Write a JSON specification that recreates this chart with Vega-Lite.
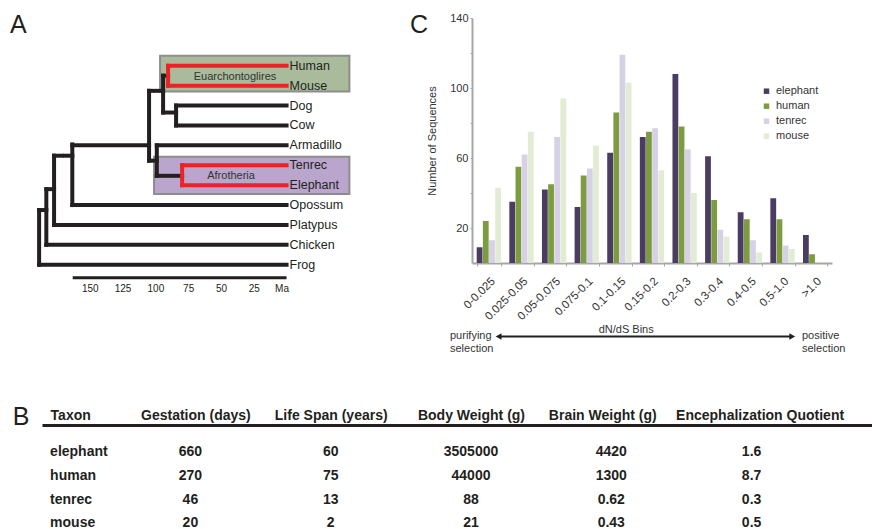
{
  "$schema": "https://vega.github.io/schema/vega-lite/v6.json",
  "padding": {"left": 10, "top": 12, "right": 0, "bottom": 0},
  "background": "white",
  "config": {
    "font": "Liberation Sans",
    "view": {"stroke": null},
    "title": {"fontSize": 25, "fontWeight": "normal", "color": "#231f20", "anchor": "start", "frame": "group", "baseline": "alphabetic"}
  },
  "bounds": "flush",
  "spacing": 407,
  "vconcat": [
    {
      "bounds": "flush",
      "spacing": 110,
      "hconcat": [
        {
          "title": {"text": "A", "dx": -32, "offset": -19.8},
          "width": 320,
          "height": 261,
          "layer": [
            {
              "data": {"values": [
                {"clade": "Euarchontoglires", "ma": 96.4, "ma2": -47.9, "row": 0.5, "row2": 2.29},
                {"clade": "Afrotheria", "ma": 101.0, "ma2": -47.9, "row": 5.57, "row2": 7.45}
              ]},
              "mark": {"type": "rect", "stroke": "#8d8d8d", "strokeWidth": 2},
              "encoding": {
                "x": {"field": "ma", "type": "quantitative",
                  "scale": {"domain": [186.4, -57.5], "nice": false, "zero": false},
                  "axis": {"values": [150, 125, 100, 75, 50, 25, 0], "labelExpr": "datum.value === 0 ? 'Ma' : datum.label",
                    "domain": false, "ticks": false, "grid": false, "title": null, "labelFontSize": 10, "labelColor": "#231f20",
                    "labelPadding": 4, "labelFlush": false, "labelOverlap": false,
                    "labelOffset": {"condition": {"test": "datum.value === 0", "value": -5}, "value": 0}}},
                "x2": {"field": "ma2"},
                "y": {"field": "row", "type": "quantitative", "scale": {"domain": [-1.4, 11.715], "reverse": true, "nice": false, "zero": false}, "axis": null},
                "y2": {"field": "row2"},
                "fill": {"field": "clade", "type": "nominal", "scale": {"domain": ["Euarchontoglires", "Afrotheria"], "range": ["#aabb9c", "#baa5cd"]}, "legend": null}
              }
            },
            {
              "data": {"values": [
                {"ma": 94.1, "ma2": 90.3, "row": 1.5, "row2": 1.5, "clade": "other"},
                {"ma": 94.1, "ma2": 94.1, "row": 1.5, "row2": 3.35, "clade": "other"},
                {"ma": 94.1, "ma2": 84.2, "row": 3.35, "row2": 3.35, "clade": "other"},
                {"ma": 84.2, "ma2": 84.2, "row": 3, "row2": 4, "clade": "other"},
                {"ma": 84.2, "ma2": 0, "row": 3, "row2": 3, "clade": "other"},
                {"ma": 84.2, "ma2": 0, "row": 4, "row2": 4, "clade": "other"},
                {"ma": 104.8, "ma2": 94.1, "row": 2.26, "row2": 2.26, "clade": "other"},
                {"ma": 104.8, "ma2": 104.8, "row": 2.26, "row2": 5.77, "clade": "other"},
                {"ma": 104.8, "ma2": 98.9, "row": 5.77, "row2": 5.77, "clade": "other"},
                {"ma": 98.9, "ma2": 98.9, "row": 5, "row2": 6.53, "clade": "other"},
                {"ma": 98.9, "ma2": 0, "row": 5, "row2": 5, "clade": "other"},
                {"ma": 98.9, "ma2": 79.6, "row": 6.53, "row2": 6.53, "clade": "other"},
                {"ma": 163.3, "ma2": 104.8, "row": 5, "row2": 5, "clade": "other"},
                {"ma": 163.3, "ma2": 163.3, "row": 4.95, "row2": 8, "clade": "other"},
                {"ma": 163.3, "ma2": 0, "row": 8, "row2": 8, "clade": "other"},
                {"ma": 177.2, "ma2": 171.1, "row": 5.52, "row2": 5.52, "clade": "other"},
                {"ma": 168.8, "ma2": 163.3, "row": 5.52, "row2": 5.52, "clade": "other"},
                {"ma": 177.2, "ma2": 177.2, "row": 5.52, "row2": 9, "clade": "other"},
                {"ma": 177.2, "ma2": 0, "row": 9, "row2": 9, "clade": "other"},
                {"ma": 183.1, "ma2": 177.2, "row": 7.2, "row2": 7.2, "clade": "other"},
                {"ma": 183.1, "ma2": 183.1, "row": 7.2, "row2": 10, "clade": "other"},
                {"ma": 183.1, "ma2": 0, "row": 10, "row2": 10, "clade": "other"},
                {"ma": 188.6, "ma2": 183.1, "row": 8.25, "row2": 8.25, "clade": "other"},
                {"ma": 188.6, "ma2": 188.6, "row": 8.25, "row2": 11, "clade": "other"},
                {"ma": 188.6, "ma2": 0, "row": 11, "row2": 11, "clade": "other"},
                {"ma": 90.3, "ma2": 0, "row": 1, "row2": 1, "clade": "Euarchontoglires"},
                {"ma": 90.3, "ma2": 0, "row": 2, "row2": 2, "clade": "Euarchontoglires"},
                {"ma": 90.3, "ma2": 90.3, "row": 1, "row2": 2, "clade": "Euarchontoglires"},
                {"ma": 79.6, "ma2": 0, "row": 6, "row2": 6, "clade": "Afrotheria"},
                {"ma": 79.6, "ma2": 0, "row": 7, "row2": 7, "clade": "Afrotheria"},
                {"ma": 79.6, "ma2": 79.6, "row": 6, "row2": 7, "clade": "Afrotheria"}
              ]},
              "mark": {"type": "rule", "strokeWidth": 4, "strokeCap": "square"},
              "encoding": {
                "x": {"field": "ma", "type": "quantitative"},
                "x2": {"field": "ma2"},
                "y": {"field": "row", "type": "quantitative"},
                "y2": {"field": "row2"},
                "stroke": {"field": "clade", "type": "nominal", "scale": {"domain": ["Euarchontoglires", "Afrotheria", "other"], "range": ["#ec2227", "#ec2227", "#231f20"]}, "legend": null}
              }
            },
            {
              "data": {"values": [{"ma": 163, "ma2": 0, "row": 11.65}]},
              "mark": {"type": "rule", "strokeWidth": 3, "color": "#231f20"},
              "encoding": {
                "x": {"field": "ma", "type": "quantitative"},
                "x2": {"field": "ma2"},
                "y": {"field": "row", "type": "quantitative"}
              }
            },
            {
              "data": {"values": [
                {"taxon": "Human", "row": 1}, {"taxon": "Mouse", "row": 2}, {"taxon": "Dog", "row": 3},
                {"taxon": "Cow", "row": 4}, {"taxon": "Armadillo", "row": 5}, {"taxon": "Tenrec", "row": 6},
                {"taxon": "Elephant", "row": 7}, {"taxon": "Opossum", "row": 8}, {"taxon": "Platypus", "row": 9},
                {"taxon": "Chicken", "row": 10}, {"taxon": "Frog", "row": 11}
              ]},
              "mark": {"type": "text", "align": "left", "baseline": "middle", "dx": 3, "fontSize": 12.5, "color": "#231f20"},
              "encoding": {
                "x": {"datum": 0, "type": "quantitative"},
                "y": {"field": "row", "type": "quantitative"},
                "text": {"field": "taxon"}
              }
            },
            {
              "data": {"values": [
                {"label": "Euarchontoglires", "ma": 39.3, "row": 1.54},
                {"label": "Afrotheria", "ma": 42.3, "row": 6.56}
              ]},
              "mark": {"type": "text", "align": "center", "baseline": "middle", "fontSize": 11, "color": "#333333"},
              "encoding": {
                "x": {"field": "ma", "type": "quantitative"},
                "y": {"field": "row", "type": "quantitative"},
                "text": {"field": "label"}
              }
            }
          ]
        },
        {
          "title": {"text": "C", "dx": -62, "offset": -26.2},
          "width": 360,
          "height": 245,
          "layer": [
            {
              "data": {"values": [
                {"bin": "0-0.025", "species": "elephant", "count": 9},
                {"bin": "0-0.025", "species": "human", "count": 24},
                {"bin": "0-0.025", "species": "tenrec", "count": 13},
                {"bin": "0-0.025", "species": "mouse", "count": 43},
                {"bin": "0.025-0.05", "species": "elephant", "count": 35},
                {"bin": "0.025-0.05", "species": "human", "count": 55},
                {"bin": "0.025-0.05", "species": "tenrec", "count": 62},
                {"bin": "0.025-0.05", "species": "mouse", "count": 75},
                {"bin": "0.05-0.075", "species": "elephant", "count": 42},
                {"bin": "0.05-0.075", "species": "human", "count": 45},
                {"bin": "0.05-0.075", "species": "tenrec", "count": 72},
                {"bin": "0.05-0.075", "species": "mouse", "count": 94},
                {"bin": "0.075-0.1", "species": "elephant", "count": 32},
                {"bin": "0.075-0.1", "species": "human", "count": 50},
                {"bin": "0.075-0.1", "species": "tenrec", "count": 54},
                {"bin": "0.075-0.1", "species": "mouse", "count": 67},
                {"bin": "0.1-0.15", "species": "elephant", "count": 63},
                {"bin": "0.1-0.15", "species": "human", "count": 86},
                {"bin": "0.1-0.15", "species": "tenrec", "count": 119},
                {"bin": "0.1-0.15", "species": "mouse", "count": 103},
                {"bin": "0.15-0.2", "species": "elephant", "count": 72},
                {"bin": "0.15-0.2", "species": "human", "count": 75},
                {"bin": "0.15-0.2", "species": "tenrec", "count": 77},
                {"bin": "0.15-0.2", "species": "mouse", "count": 53},
                {"bin": "0.2-0.3", "species": "elephant", "count": 108},
                {"bin": "0.2-0.3", "species": "human", "count": 78},
                {"bin": "0.2-0.3", "species": "tenrec", "count": 65},
                {"bin": "0.2-0.3", "species": "mouse", "count": 40},
                {"bin": "0.3-0.4", "species": "elephant", "count": 61},
                {"bin": "0.3-0.4", "species": "human", "count": 36},
                {"bin": "0.3-0.4", "species": "tenrec", "count": 19},
                {"bin": "0.3-0.4", "species": "mouse", "count": 15},
                {"bin": "0.4-0.5", "species": "elephant", "count": 29},
                {"bin": "0.4-0.5", "species": "human", "count": 25},
                {"bin": "0.4-0.5", "species": "tenrec", "count": 13},
                {"bin": "0.4-0.5", "species": "mouse", "count": 6},
                {"bin": "0.5-1.0", "species": "elephant", "count": 37},
                {"bin": "0.5-1.0", "species": "human", "count": 25},
                {"bin": "0.5-1.0", "species": "tenrec", "count": 10},
                {"bin": "0.5-1.0", "species": "mouse", "count": 8},
                {"bin": ">1.0", "species": "elephant", "count": 16},
                {"bin": ">1.0", "species": "human", "count": 5},
                {"bin": ">1.0", "species": "tenrec", "count": 0},
                {"bin": ">1.0", "species": "mouse", "count": 0}
              ]},
              "mark": {"type": "bar"},
              "encoding": {
                "x": {"field": "bin", "type": "nominal",
                  "scale": {"domain": ["0-0.025", "0.025-0.05", "0.05-0.075", "0.075-0.1", "0.1-0.15", "0.15-0.2", "0.2-0.3", "0.3-0.4", "0.4-0.5", "0.5-1.0", ">1.0"], "paddingInner": 0.255, "paddingOuter": 0.144},
                  "axis": {"title": null, "labelAngle": -45, "labelFontSize": 11.5, "labelColor": "#333333", "domainColor": "#a6a6a8", "domainWidth": 2,
                    "tickColor": "#a6a6a8", "tickSize": 3, "tickBand": "extent", "labelPadding": 9}},
                "xOffset": {"field": "species", "type": "nominal", "scale": {"domain": ["elephant", "human", "tenrec", "mouse"], "paddingInner": 0.06}},
                "y": {"field": "count", "type": "quantitative",
                  "scale": {"domain": [0, 140], "nice": false},
                  "axis": {"title": "Number of Sequences", "values": [20, 40, 60, 80, 100, 120, 140],
                    "labelExpr": "datum.value % 40 === 20 ? datum.label : ''", "grid": false,
                    "domainColor": "#a6a6a8", "domainWidth": 2, "tickColor": "#a6a6a8", "tickSize": 2,
                    "labelFontSize": 11, "labelColor": "#333333", "labelPadding": 2,
                    "titleFontSize": 11, "titleFontWeight": "normal", "titleColor": "#333333", "titlePadding": 12}},
                "color": {"field": "species", "type": "nominal",
                  "scale": {"domain": ["elephant", "human", "tenrec", "mouse"], "range": ["#4b3d61", "#7d9c42", "#d6d1e5", "#e2ebd3"]},
                  "legend": {"title": null, "orient": "none", "legendX": 719, "legendY": 67.7, "symbolType": "square", "symbolSize": 30,
                    "labelFontSize": 11, "labelColor": "#333333", "rowPadding": 3}}
              }
            },
            {
              "data": {"values": [{"bin": "0-0.025"}, {"bin": "0.5-1.0"}]},
              "mark": {"type": "line", "color": "#231f20", "strokeWidth": 1.8},
              "encoding": {
                "x": {"field": "bin", "type": "nominal", "bandPosition": 0.9},
                "y": {"datum": -42, "type": "quantitative"}
              }
            },
            {
              "data": {"values": [{"bin": "0-0.025", "dir": "left"}, {"bin": "0.5-1.0", "dir": "right"}]},
              "mark": {"type": "point", "filled": true, "size": 45, "color": "#231f20", "opacity": 1},
              "encoding": {
                "x": {"field": "bin", "type": "nominal", "bandPosition": 0.9},
                "y": {"datum": -42, "type": "quantitative"},
                "shape": {"field": "dir", "type": "nominal", "scale": {"domain": ["left", "right"], "range": ["triangle-left", "triangle-right"]}, "legend": null}
              }
            },
            {
              "data": {"values": [{"bin": "0-0.025", "label": "purifying\nselection"}]},
              "mark": {"type": "text", "align": "left", "baseline": "middle", "dx": -26.7, "fontSize": 11, "lineHeight": 13, "lineBreak": "\n", "color": "#333333"},
              "encoding": {
                "x": {"field": "bin", "type": "nominal", "bandPosition": 0},
                "y": {"datum": -41.5, "type": "quantitative"},
                "text": {"field": "label"}
              }
            },
            {
              "data": {"values": [{"bin": ">1.0", "label": "positive\nselection"}]},
              "mark": {"type": "text", "align": "left", "baseline": "middle", "dx": -1, "fontSize": 11, "lineHeight": 13, "lineBreak": "\n", "color": "#333333"},
              "encoding": {
                "x": {"field": "bin", "type": "nominal", "bandPosition": 0},
                "y": {"datum": -41.5, "type": "quantitative"},
                "text": {"field": "label"}
              }
            },
            {
              "data": {"values": [{"bin": "0.1-0.15", "label": "dN/dS Bins"}]},
              "mark": {"type": "text", "align": "center", "baseline": "middle", "fontSize": 11, "color": "#333333"},
              "encoding": {
                "x": {"field": "bin", "type": "nominal", "bandPosition": 0.78},
                "y": {"datum": -38, "type": "quantitative"},
                "text": {"field": "label"}
              }
            }
          ]
        }
      ]
    },
    {
      "title": {"text": "B", "dx": -29.3, "offset": -22.4},
      "width": 830,
      "height": 105,
      "data": {"values": [
        {"taxon": "elephant", "column": "Taxon", "value": "elephant"},
        {"taxon": "elephant", "column": "Gestation (days)", "value": "660"},
        {"taxon": "elephant", "column": "Life Span (years)", "value": "60"},
        {"taxon": "elephant", "column": "Body Weight (g)", "value": "3505000"},
        {"taxon": "elephant", "column": "Brain Weight (g)", "value": "4420"},
        {"taxon": "elephant", "column": "Encephalization Quotient", "value": "1.6"},
        {"taxon": "human", "column": "Taxon", "value": "human"},
        {"taxon": "human", "column": "Gestation (days)", "value": "270"},
        {"taxon": "human", "column": "Life Span (years)", "value": "75"},
        {"taxon": "human", "column": "Body Weight (g)", "value": "44000"},
        {"taxon": "human", "column": "Brain Weight (g)", "value": "1300"},
        {"taxon": "human", "column": "Encephalization Quotient", "value": "8.7"},
        {"taxon": "tenrec", "column": "Taxon", "value": "tenrec"},
        {"taxon": "tenrec", "column": "Gestation (days)", "value": "46"},
        {"taxon": "tenrec", "column": "Life Span (years)", "value": "13"},
        {"taxon": "tenrec", "column": "Body Weight (g)", "value": "88"},
        {"taxon": "tenrec", "column": "Brain Weight (g)", "value": "0.62"},
        {"taxon": "tenrec", "column": "Encephalization Quotient", "value": "0.3"},
        {"taxon": "mouse", "column": "Taxon", "value": "mouse"},
        {"taxon": "mouse", "column": "Gestation (days)", "value": "20"},
        {"taxon": "mouse", "column": "Life Span (years)", "value": "2"},
        {"taxon": "mouse", "column": "Body Weight (g)", "value": "21"},
        {"taxon": "mouse", "column": "Brain Weight (g)", "value": "0.43"},
        {"taxon": "mouse", "column": "Encephalization Quotient", "value": "0.5"}
      ]},
      "encoding": {
        "x": {"field": "column", "type": "nominal",
          "scale": {"type": "point", "domain": ["Taxon", "Gestation (days)", "Life Span (years)", "Body Weight (g)", "Brain Weight (g)", "Encephalization Quotient"], "padding": 0.458, "align": 0.063},
          "axis": {"orient": "top", "title": null, "ticks": false, "domainColor": "#231f20", "domainWidth": 3,
            "labelFontSize": 14, "labelFontWeight": "bold", "labelColor": "#231f20", "labelPadding": 3, "labelAngle": 0,
            "labelLimit": 400, "labelOverlap": false, "labelFlush": false,
            "labelAlign": {"condition": {"test": "datum.value === 'Taxon'", "value": "left"}, "value": "center"},
            "labelOffset": {"condition": [
              {"test": "datum.value === 'Brain Weight (g)'", "value": -9},
              {"test": "datum.value === 'Encephalization Quotient'", "value": 8},
              {"test": "datum.value === 'Gestation (days)'", "value": 5}
            ], "value": 0}}},
        "y": {"field": "taxon", "type": "nominal",
          "scale": {"type": "point", "domain": ["elephant", "human", "tenrec", "mouse"], "padding": 0.712, "align": 0.926}, "axis": null},
        "text": {"field": "value"}
      },
      "layer": [
        {
          "transform": [{"filter": "datum.column === 'Taxon'"}],
          "mark": {"type": "text", "align": "left", "baseline": "alphabetic", "fontSize": 14, "fontWeight": "bold", "color": "#231f20"}
        },
        {
          "transform": [{"filter": "datum.column !== 'Taxon'"}],
          "mark": {"type": "text", "align": "center", "baseline": "alphabetic", "fontSize": 14, "fontWeight": "bold", "color": "#231f20"}
        }
      ]
    }
  ]
}
